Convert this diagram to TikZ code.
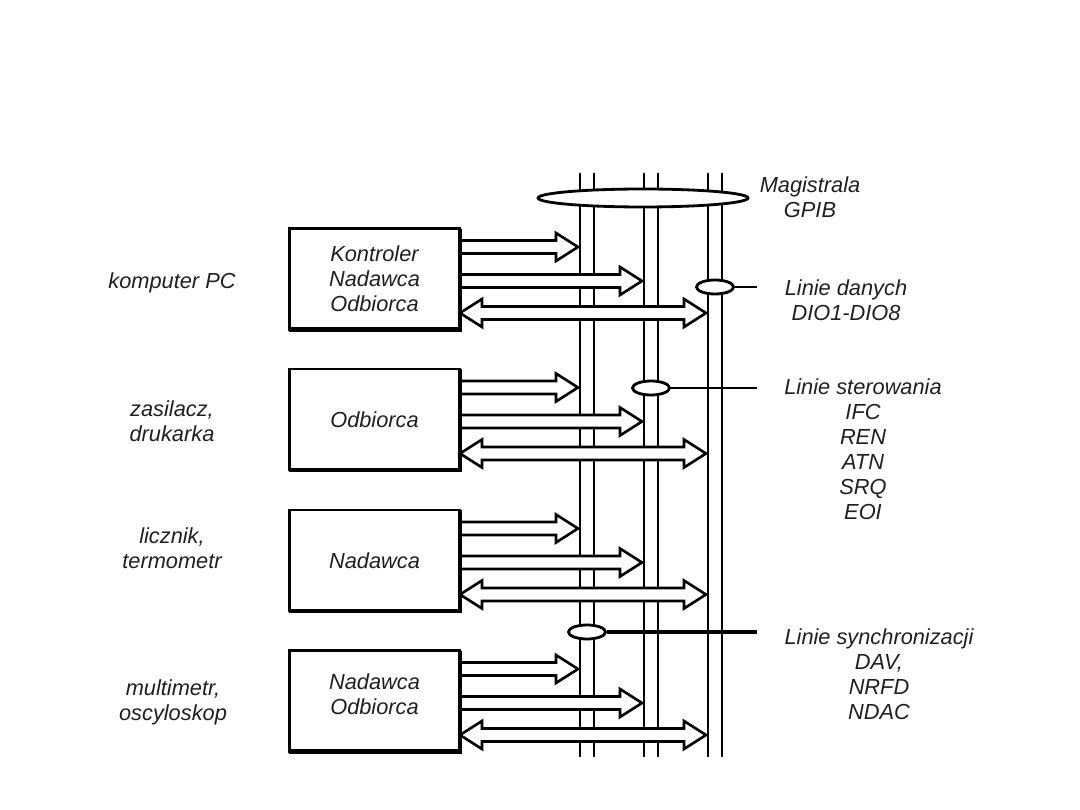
\documentclass[tikz,border=0pt]{standalone}
\usepackage{fontspec}
\setmainfont{Liberation Sans}
\usetikzlibrary{calc,shapes.geometric,backgrounds}

\tikzset{
  lbl/.style={font=\fontsize{12.4}{14.2}\selectfont\itshape, text=black!88, align=center, inner sep=0pt},
  box/.style={lbl, draw, line width=1.7pt, minimum width=3.42cm, minimum height=2.02cm, outer sep=0pt},
  shadowline/.style={line width=2.5pt},
  busline/.style={line width=1.7pt},
  ring/.style={ellipse, draw, fill=white, line width=1.6pt, inner sep=0pt, minimum width=0.74cm, minimum height=0.28cm},
  arr/.style={draw, fill=white, line width=1.5pt, line join=miter},
}

% hollow arrow from a box (offset below its top) to a bus
\newcommand{\busarrow}[3]{%
  \coordinate (a) at ($(#1.north east)+(0,#2)$);
  \coordinate (b) at ($(#3 |- a)+(-9,0)$);
  \draw[arr] ($(a)+(0,-6.5)$) -- ($(b)+(-22,-6.5)$) -- ($(b)+(-22,-14)$) -- (b)
    -- ($(b)+(-22,14)$) -- ($(b)+(-22,6.5)$) -- ($(a)+(0,6.5)$);}
% same, with a head at both ends
\newcommand{\busdarrow}[3]{%
  \coordinate (a) at ($(#1.north east)+(0,#2)$);
  \coordinate (b) at ($(#3 |- a)+(-9,0)$);
  \draw[arr] (a) -- ($(a)+(22,-14)$) -- ($(a)+(22,-6.5)$) -- ($(b)+(-22,-6.5)$)
    -- ($(b)+(-22,-14)$) -- (b) -- ($(b)+(-22,14)$) -- ($(b)+(-22,6.5)$)
    -- ($(a)+(22,6.5)$) -- ($(a)+(22,14)$) -- cycle;}

\begin{document}
\begin{tikzpicture}[x=0.02cm,y=-0.02cm]
\useasboundingbox (0,0) rectangle (1080,810);

% devices
\node[box] (pc)  at (374.5,279)   {Kontroler\\Nadawca\\Odbiorca};
\node[box] (odb) at (374.5,419.5) {Odbiorca};
\node[box] (nad) at (374.5,560.5) {Nadawca};
\node[box] (nn)  at (374.5,701)   {};
\node[lbl] (nn-t) at (374.5,694) {Nadawca\\Odbiorca};
\foreach \b in {pc,odb,nad,nn}
  \draw[shadowline] (\b.north east) -- (\b.south east) -- (\b.south west);

% the bus
\coordinate (busA) at (587,173);
\coordinate (busB) at (651,173);
\coordinate (busC) at (715,173);

\begin{pgfonlayer}{background}
\foreach \b in {busA,busB,busC}{
  \draw[busline] ($(\b)+(-7,0)$) -- ($(\b)+(-7,584)$);
  \draw[busline] ($(\b)+(7,0)$) -- ($(\b)+(7,584)$);
}
\node[ring, minimum width=4.2cm, minimum height=0.36cm] (gpib) at (643,198) {};
\node[ring] (dio)  at (busC |- 0,287) {};
\node[ring] (ster) at (busB |- 0,388) {};
\node[ring] (sync) at (busA |- 0,632) {};
\coordinate (dio-e)  at (757,287);
\coordinate (ster-e) at (757,388);
\coordinate (sync-e) at (757,632);
\draw[line width=1.4pt] (dio) -- (dio-e);
\draw[line width=1.4pt] (ster) -- (ster-e);
\draw[line width=2.5pt] (sync) -- (sync-e);

\foreach \b in {pc,odb,nad,nn}{
  \busarrow{\b}{18.5}{busA}
  \busarrow{\b}{52.5}{busB}
  \busdarrow{\b}{84.5}{busC}
}
\end{pgfonlayer}

% labels
\node[lbl] (gpib-t) at (810,197)   {Magistrala\\GPIB};
\node[lbl] (dio-t)  at (846,300)   {Linie danych\\DIO1-DIO8};
\node[lbl] (ster-t) at (863,449.5) {Linie sterowania\\IFC\\REN\\ATN\\SRQ\\EOI};
\node[lbl] (sync-t) at (879,674)   {Linie synchronizacji\\DAV,\\NRFD\\NDAC};

\node[lbl] (pc-l)  at (172,283)   {komputer PC};
\node[lbl] (odb-l) at (172,421.5) {zasilacz,\\drukarka};
\node[lbl] (nad-l) at (172,548.5) {licznik,\\termometr};
\node[lbl] (nn-l)  at (173,702)   {multimetr,\\oscyloskop};
\end{tikzpicture}
\end{document}
